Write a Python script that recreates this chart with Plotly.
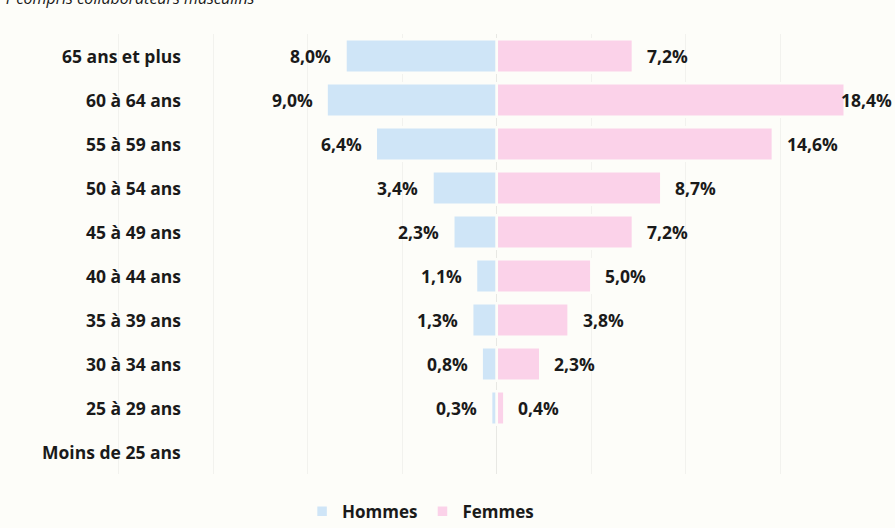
import plotly.graph_objects as go

# tranches d'âge, du haut vers le bas
categories = ['65 ans et plus', '60 à 64 ans', '55 à 59 ans', '50 à 54 ans', '45 à 49 ans',
              '40 à 44 ans', '35 à 39 ans', '30 à 34 ans', '25 à 29 ans', 'Moins de 25 ans']
hommes = [8.0, 9.0, 6.4, 3.4, 2.3, 1.1, 1.3, 0.8, 0.3, None]
femmes = [7.2, 18.4, 14.6, 8.7, 7.2, 5.0, 3.8, 2.3, 0.4, None]
subtitle = 'Y compris collaborateurs masculins'

fmt = lambda v: f'{v:.1f}%'.replace('.', ',')
bg = '#fdfdf9'
font = '"Open Sans", Lato, sans-serif'
txt = dict(size=17.5, color='#1a1a1a', family=font)
x_max = 20

fig = go.Figure()
fig.add_trace(go.Bar(
    y=categories, x=[-v if v is not None else None for v in hommes],
    orientation='h', name='Hommes', marker=dict(color='#cfe5f7', line=dict(color=bg, width=2.5)),
    width=0.76, hoverinfo='skip'))
fig.add_trace(go.Bar(
    y=categories, x=femmes,
    orientation='h', name='Femmes', marker=dict(color='#fbd2e9', line=dict(color=bg, width=2.5)),
    width=0.76, hoverinfo='skip'))

annotations = []
for cat, h, f in zip(categories, hommes, femmes):
    annotations.append(dict(x=-16.6, y=cat, xref='x', yref='y', text=f'<b>{cat}</b>',
                            xanchor='right', showarrow=False, font=txt))
    if h is not None:
        annotations.append(dict(x=-h, y=cat, xref='x', yref='y', text=f'<b>{fmt(h)}</b>', xanchor='right',
                                xshift=-12, showarrow=False, font=txt))
    if f is not None:
        if f > x_max - 3:
            # étiquette trop longue : calée sur le bord droit comme dans Excel
            annotations.append(dict(x=1, y=cat, xref='paper', yref='y', text=f'<b>{fmt(f)}</b>',
                                    xanchor='right', xshift=19, showarrow=False, font=txt))
        else:
            annotations.append(dict(x=f, y=cat, xref='x', yref='y', text=f'<b>{fmt(f)}</b>', xanchor='left',
                                    xshift=12, showarrow=False, font=txt))
annotations.append(dict(x=0, y=1, xref='paper', yref='paper', xshift=-22, yshift=23, text=f'<i>{subtitle}</i>',
                        xanchor='left', yanchor='bottom', showarrow=False,
                        font=dict(size=16, color='#1a1a1a', family=font)))

fig.update_layout(
    width=895, height=528,
    margin=dict(l=24, r=20, t=34, b=54, autoexpand=False),
    paper_bgcolor=bg, plot_bgcolor=bg,
    barmode='relative',
    font=dict(family=font, size=17, color='#1a1a1a'),
    showlegend=True,
    legend=dict(orientation='h', x=0.466, xanchor='center', y=-0.045, yanchor='top',
                font=dict(size=17, family=font, weight='bold'), itemwidth=30, traceorder='normal'),
    annotations=annotations,
)
fig.update_xaxes(range=[-25, x_max], dtick=5, showgrid=True, gridcolor='#f2f2ee', gridwidth=1,
                 showticklabels=False, zeroline=True, zerolinecolor='#e8e8e4', zerolinewidth=1, fixedrange=True)
fig.update_yaxes(categoryorder='array', categoryarray=categories[::-1], showticklabels=False,
                 showgrid=False, fixedrange=True)

# pas de marge de page autour du graphique
fig.write_html("out.html", config={'displayModeBar': False},
               post_script="document.body.style.margin='0';")
